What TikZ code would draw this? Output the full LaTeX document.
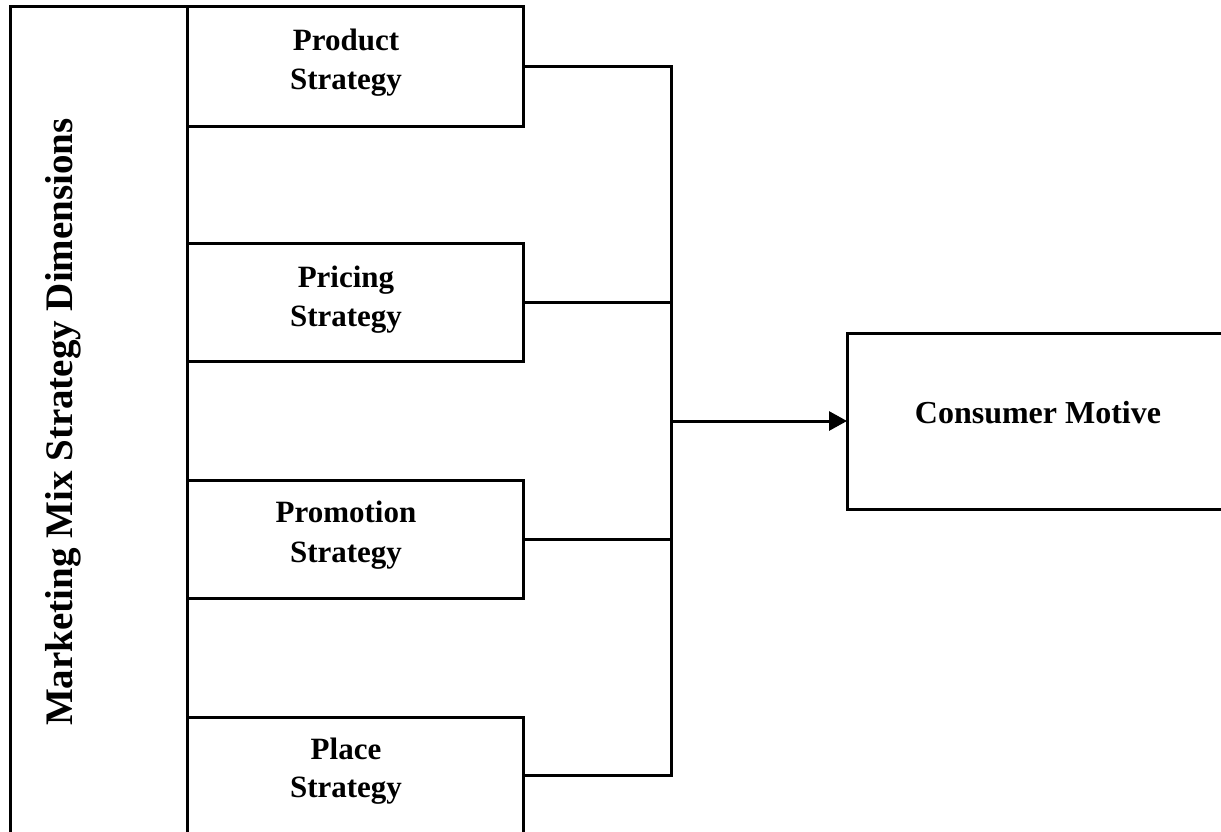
\documentclass[tikz,border=0pt]{standalone}
\usepackage{fontspec}
\setmainfont{Liberation Serif}
\usetikzlibrary{arrows.meta}
\begin{document}
\begin{tikzpicture}[x=1pt,y=-1pt,
  boxline/.style={draw, line width=3pt, rectangle, inner sep=0pt, outer sep=0pt},
  lbl/.style={align=center, anchor=base, inner sep=0pt},
  wire/.style={line width=3pt},
  tip/.style={-{Triangle[length=18pt,width=19pt]}}]
\path[use as bounding box] (0,0) rectangle (1221,831);
\clip (0,0) rectangle (1221,831);
% boxes
\node[boxline, minimum width=177pt, minimum height=839pt] (dim) at (98.5,425.5) {};
\node[boxline, minimum width=336pt, minimum height=120pt] (prod) at (355,66) {};
\node[boxline, minimum width=336pt, minimum height=118pt] (pric) at (355,302) {};
\node[boxline, minimum width=336pt, minimum height=118pt] (prom) at (355,539) {};
\node[boxline, minimum width=336pt, minimum height=128pt] (plac) at (355,781) {};
\node[boxline, minimum width=385pt, minimum height=176pt] (cons) at (1039.5,421) {};
% texts (anchor base = baseline of the last line)
\node[lbl, rotate=90, font=\bfseries\fontsize{39}{44}\selectfont] (tdim) at (72,422) {Marketing Mix Strategy Dimensions};
\node[lbl, font=\bfseries\fontsize{31}{39}\selectfont] (tprod) at (346,89) {Product\\Strategy};
\node[lbl, font=\bfseries\fontsize{31}{39}\selectfont] (tpric) at (346,326) {Pricing\\Strategy};
\node[lbl, font=\bfseries\fontsize{31}{40}\selectfont] (tprom) at (346,562) {Promotion\\Strategy};
\node[lbl, font=\bfseries\fontsize{31}{38}\selectfont] (tplac) at (346,797) {Place\\Strategy};
\node[lbl, font=\bfseries\fontsize{32}{38}\selectfont] (tcons) at (1038,423) {Consumer Motive};
% connectors
\coordinate (busx) at (671,0);
\coordinate (placeout) at (523,775);
\draw[wire] (prod.east) -- (prod.east -| busx) -- (placeout -| busx) -- (placeout);
\draw[wire] (pric.east) -- (pric.east -| busx);
\draw[wire] (prom.east) -- (prom.east -| busx);
\draw[wire, tip] (cons.west -| busx) -- (cons.west);
\end{tikzpicture}
\end{document}
